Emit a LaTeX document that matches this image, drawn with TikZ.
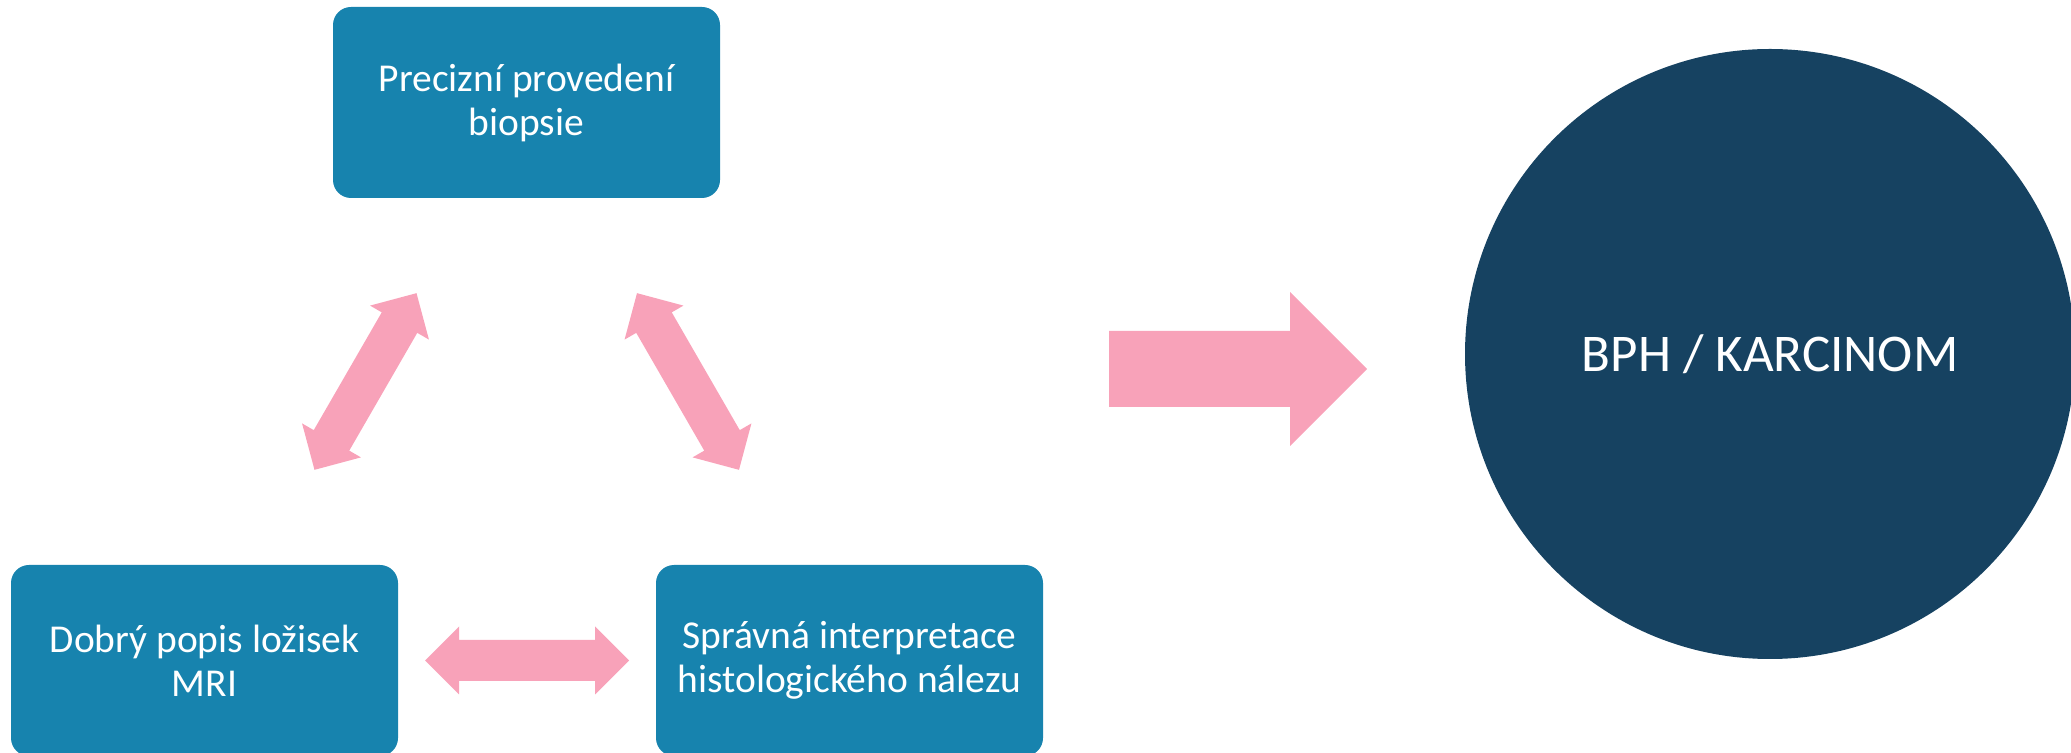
\documentclass[tikz,border=0pt]{standalone}
\usepackage{fontspec}
\setmainfont{Carlito}
\usetikzlibrary{calc}
\definecolor{boxblue}{RGB}{23,131,174}
\definecolor{darknavy}{RGB}{22,66,97}
\definecolor{arrowpink}{RGB}{248,162,185}
\tikzset{
  stepbox/.style={rectangle, rounded corners=18pt, fill=boxblue, text=white,
    minimum width=387pt, minimum height=191pt, inner sep=0pt, align=center,
    font=\fontsize{39.5}{44}\selectfont},
  bigcircle/.style={circle, fill=darknavy, text=white, minimum size=610pt, inner sep=0pt,
    font=\fontsize{53}{64}\selectfont},
  dblarr/.pic={\fill[arrowpink] (-102,0) -- (-68,34) -- (-68,20.5) -- (68,20.5) -- (68,34)
      -- (102,0) -- (68,-34) -- (68,-20.5) -- (-68,-20.5) -- (-68,-34) -- cycle;}
}
\begin{document}
\begin{tikzpicture}[x=1pt,y=1pt]
\useasboundingbox (0,0) rectangle (2071,752);
\clip (0,0) rectangle (2071,752);
\node[stepbox] (top) at (526.5,649.5) {Precizní provedení\\biopsie};
\node[stepbox] (bl) at (204.5,91.5) {Dobrý popis ložisek\\MRI};
\node[stepbox] (br) at (849.5,91.5) {Správná interpretace\\histologického nálezu};
\node[bigcircle] (res) at (1770,398) {BPH / KARCINOM};
\pic[rotate=60] at ($(bl)!0.5!(top)$) {dblarr};
\pic[rotate=-60] at ($(top)!0.5!(br)$) {dblarr};
\pic at ($(bl)!0.5!(br)$) {dblarr};
\coordinate (arrstart) at (1109,383);
\fill[arrowpink] (arrstart) ++(0,38) -- ++(181,0) -- ++(0,39) -- ++(77,-77) -- ++(-77,-77)
  -- ++(0,39) -- ++(-181,0) -- cycle;
\end{tikzpicture}
\end{document}
